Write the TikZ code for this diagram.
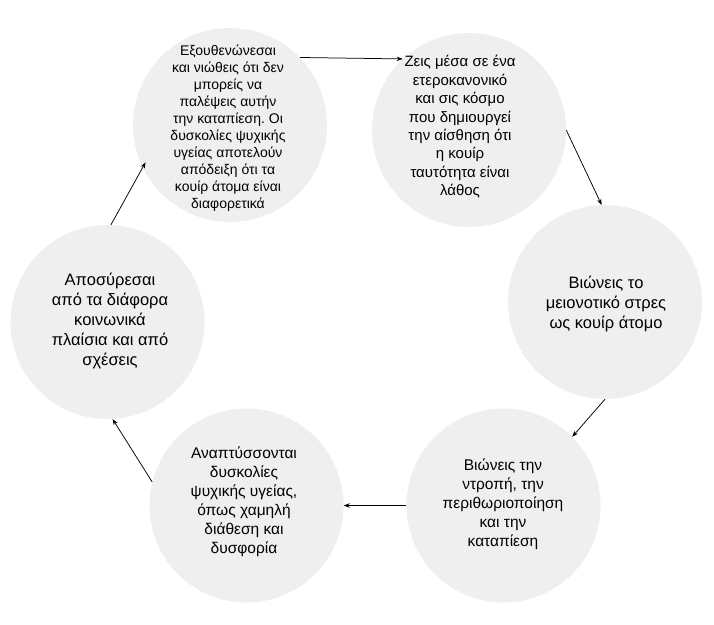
\documentclass[tikz,border=0pt]{standalone}
\usepackage{fontspec}
\setmainfont{Liberation Sans}
\usetikzlibrary{arrows.meta}
\definecolor{bubblefill}{HTML}{EFEFEF}
\frenchspacing
\tikzset{
  bubble/.style={circle, fill=bubblefill, draw=none, minimum size=194pt, inner sep=0pt},
  txt/.style={align=center, inner sep=0pt, text=black},
  conn/.style={draw=black, line width=0.75pt, -{Stealth[length=6pt,width=4.5pt]}}
}
\begin{document}
\begin{tikzpicture}[x=1pt,y=-1pt]
\useasboundingbox (0,0) rectangle (714,624);
\node[bubble] (c1) at (230,125) {};
\node[bubble] (c2) at (469,130) {};
\node[bubble] (c3) at (605,302) {};
\node[bubble] (c4) at (503.5,505.5) {};
\node[bubble] (c5) at (246.5,505.5) {};
\node[bubble] (c6) at (107.5,322) {};

\node[txt, font=\fontsize{14}{17}\selectfont] (t1) at (228,128) {Εξουθενώνεσαι\\και νιώθεις ότι δεν\\μπορείς να\\παλέψεις αυτήν\\την καταπίεση. Οι\\δυσκολίες ψυχικής\\υγείας αποτελούν\\απόδειξη ότι τα\\κουίρ άτομα είναι\\διαφορετικά};
\node[txt, font=\fontsize{15}{18.4}\selectfont] (t2) at (460,127) {Ζεις μέσα σε ένα\\ετεροκανονικό\\και σις κόσμο\\που δημιουργεί\\την αίσθηση ότι\\η κουίρ\\ταυτότητα είναι\\λάθος};
\node[txt, font=\fontsize{16.5}{20}\selectfont] (t3) at (606,304) {Βιώνεις το\\μειονοτικό στρες\\ως κουίρ άτομο};
\node[txt, font=\fontsize{15.5}{19}\selectfont] (t4) at (503,504) {Βιώνεις την\\ντροπή, την\\περιθωριοποίηση\\και την\\καταπίεση};
\node[txt, font=\fontsize{15.5}{19}\selectfont] (t5) at (244,502) {Αναπτύσσονται\\δυσκολίες\\ψυχικής υγείας,\\όπως χαμηλή\\διάθεση και\\δυσφορία};
\node[txt, font=\fontsize{16.5}{20}\selectfont] (t6) at (110,321) {Αποσύρεσαι\\από τα διάφορα\\κοινωνικά\\πλαίσια και από\\σχέσεις};

\draw[conn] (c1.44) -- (c2.133);
\draw[conn] (c2.0) -- (c3.92);
\draw[conn] (c3.270) -- (c4.45);
\draw[conn] (c4.west) -- (c5.east);
\draw[conn] (c5.166) -- (c6.273);
\draw[conn, shorten >=-6pt] (c6.88) -- (c1.206);
\end{tikzpicture}
\end{document}
